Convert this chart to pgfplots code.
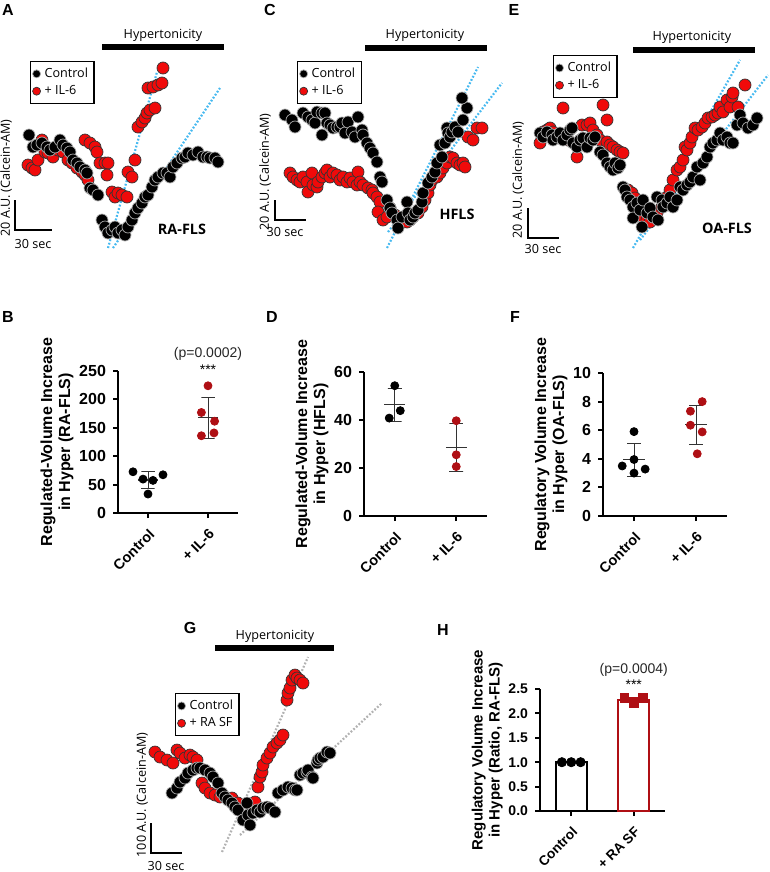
\documentclass[border=0pt]{standalone}
\usepackage{fontspec}
\setmainfont{Liberation Sans}
\newfontfamily\trf{Open Sans}
\usepackage{pgfplots}
\pgfplotsset{compat=1.18}
\definecolor{dotblue}{RGB}{70,185,240}
\definecolor{dred}{RGB}{175,15,20}
\definecolor{tred}{RGB}{240,10,10}
\newcommand\tf{\trf\fontsize{6.3}{7.5}\selectfont}
\newcommand\tfb{\trf\bfseries\fontsize{7.2}{8}\selectfont}
\newcommand\pl{\bfseries\fontsize{8}{9}\selectfont}
\pgfplotsset{
 trace/.style={hide axis, scale only axis, y dir=reverse, clip=false, enlargelimits=false,
   legend cell align=left, reverse legend,
   legend style={draw=black, line width=0.6pt, font=\tf, inner sep=1pt, row sep=-1.5pt, anchor=north west, fill=white},
   legend image code/.code={\draw[##1, mark size=2pt] plot coordinates {(0.1cm,0cm)};}},
 ctl/.style={only marks, mark=*, mark size=3pt, mark options={fill=black, draw=gray!65, line width=0.35pt}},
 trd/.style={only marks, mark=*, mark size=3pt, mark options={fill=tred, draw=black!80, line width=0.35pt}},
 fit/.style={dotblue, dash pattern=on 0.9pt off 0.9pt, line width=1.1pt, forget plot},
 gfit/.style={gray!60, dash pattern=on 0.9pt off 0.9pt, line width=1.1pt, forget plot},
 dotp/.style={scale only axis, clip=false, axis x line=bottom, axis y line=left,
   axis line style={line width=1pt, -}, tick style={line width=1pt, black}, tick align=outside,
   major tick length=2.5pt, xmin=-0.5, xmax=1.5, xtick={0,1},
   /pgf/number format/assume math mode=true, ylabel shift=-4pt,
   yticklabel style={font=\pl}, xticklabel style={rotate=45, anchor=north east, font=\bfseries\fontsize{7.2}{8}\selectfont},
   ylabel style={align=center, font=\pl}},
 cpt/.style={only marks, mark=*, mark size=2pt, mark options={fill=black, draw=black}},
 rpt/.style={only marks, mark=*, mark size=2pt, mark options={fill=dred, draw=dred}},
 sd/.style={black!80, line width=0.5pt, forget plot},
 mline/.style={black!80, line width=0.6pt, forget plot},
}
\begin{document}
\begin{tikzpicture}
\useasboundingbox (0,0) rectangle (385pt,-436pt);
\begin{scope}[x=0.5pt,y=-0.5pt]
\node[font=\bfseries\fontsize{8}{9}\selectfont] at (8,10) {A};
\node[font=\bfseries\fontsize{8}{9}\selectfont] at (270,10) {C};
\node[font=\bfseries\fontsize{8}{9}\selectfont] at (514,10) {E};
\node[font=\bfseries\fontsize{8}{9}\selectfont] at (8,317) {B};
\node[font=\bfseries\fontsize{8}{9}\selectfont] at (272,317) {D};
\node[font=\bfseries\fontsize{8}{9}\selectfont] at (515,317) {F};
\node[font=\bfseries\fontsize{8}{9}\selectfont] at (190,628) {G};
\node[font=\bfseries\fontsize{8}{9}\selectfont] at (443,630) {H};
\end{scope}
%% ---------- A ----------
\begin{axis}[trace, at={(0pt,-127.5pt)}, anchor=south west, width=127.5pt, height=127.5pt,
  xmin=0, xmax=255, ymin=0, ymax=255, legend style={at={(0.1176,0.761)}}]
\addplot[fit] coordinates {(108,248) (157,72)};
\addplot[fit] coordinates {(113,248) (220,88)};
\addplot[trd] coordinates {(28,165) (32,168) (35,170) (38,160) (42,140) (45,152) (48,153) (53,157) (58,150) (63,152) (68,160) (72,163) (77,168) (82,172) (85,175) (88,180) (85,140) (90,143) (95,147) (97,152) (100,163) (105,163) (108,163) (107,175) (112,192) (115,197) (118,193) (122,195) (127,197) (128,172) (132,177) (135,160) (138,127) (142,122) (145,118) (147,113) (150,110) (155,108) (148,88) (153,87) (158,85) (162,83) (163,68)};
\addlegendentry{+ IL-6}
\addplot[ctl] coordinates {(29,135) (33,147) (37,145) (42,143) (47,147) (50,150) (55,147) (60,140) (63,145) (67,148) (70,152) (73,160) (77,163) (80,167) (85,170) (87,173) (90,188) (93,190) (98,195) (102,220) (105,227) (108,233) (112,230) (115,227) (118,233) (122,230) (125,235) (128,227) (132,220) (135,213) (138,208) (142,203) (145,197) (148,195) (152,187) (155,180) (158,177) (163,173) (167,173) (170,177) (173,167) (177,163) (182,158) (185,157) (188,153) (193,155) (198,152) (203,157) (207,157) (210,158) (215,158) (218,162)};
\addlegendentry{Control}
\node[font=\tf] at (axis cs:163,35) {Hypertonicity};
\draw[line width=2.8pt] (axis cs:102,47) -- (axis cs:224,47);
\draw[line width=0.7pt] (axis cs:15,200) -- (axis cs:15,230) -- (axis cs:52,230);
\node[font=\tf] at (axis cs:33,244) {30 sec};
\node[font=\tf, rotate=90] at (axis cs:6,178) {20 A.U. (Calcein-AM)};
\node[font=\tfb] at (axis cs:182,229) {RA-FLS};
\end{axis}
%% ---------- C ----------
\begin{axis}[trace, at={(127.5pt,-127.5pt)}, anchor=south west, width=127.5pt, height=127.5pt,
  xmin=255, xmax=510, ymin=0, ymax=255, legend style={at={(0.165,0.761)}}]
\addplot[fit] coordinates {(387,248) (478,67)};
\addplot[fit] coordinates {(388,232) (502,83)};
\addplot[trd] coordinates {(290,173) (293,177) (297,180) (300,182) (303,177) (307,182) (308,192) (312,173) (313,185) (317,187) (318,182) (322,177) (325,173) (327,170) (330,177) (333,173) (337,175) (340,180) (343,177) (347,182) (350,178) (353,182) (357,185) (358,172) (360,182) (363,185) (368,188) (372,190) (373,193) (377,197) (380,202) (378,212) (383,220) (387,217) (390,208) (395,215) (398,220) (403,222) (407,222) (410,220) (413,217) (418,213) (422,207) (425,200) (428,193) (430,185) (432,180) (437,177) (440,173) (443,168) (447,163) (450,157) (453,158) (457,163) (460,165) (463,163) (465,167) (468,137) (473,140) (477,128) (482,128)};
\addlegendentry{+ IL-6}
\addplot[ctl] coordinates {(285,115) (292,120) (295,127) (303,113) (308,117) (312,120) (315,123) (317,112) (322,113) (325,113) (322,135) (327,123) (330,125) (333,128) (337,127) (340,127) (342,123) (345,133) (348,122) (352,132) (355,137) (358,117) (362,130) (363,135) (367,143) (370,148) (373,153) (377,162) (380,177) (382,182) (387,200) (390,208) (392,213) (397,220) (398,228) (402,217) (407,202) (408,213) (410,220) (413,217) (415,213) (418,210) (422,202) (423,193) (428,183) (432,177) (435,172) (437,163) (440,145) (442,157) (445,143) (447,128) (448,133) (450,137) (452,132) (455,127) (458,132) (463,120) (467,108) (462,98)};
\addlegendentry{Control}
\node[font=\tf] at (axis cs:425,35) {Hypertonicity};
\draw[line width=2.8pt] (axis cs:365,48) -- (axis cs:487,48);
\draw[line width=0.7pt] (axis cs:275,200) -- (axis cs:275,220) -- (axis cs:306,220);
\node[font=\tf] at (axis cs:285,232) {30 sec};
\node[font=\tf, rotate=90] at (axis cs:265,172) {20 A.U. (Calcein-AM)};
\node[font=\tfb] at (axis cs:457,214) {HFLS};
\end{axis}
%% ---------- E ----------
\begin{axis}[trace, at={(255pt,-127.5pt)}, anchor=south west, width=130pt, height=127.5pt,
  xmin=510, xmax=770, ymin=0, ymax=255, legend style={at={(0.165,0.784)}}]
\addplot[fit] coordinates {(633,248) (740,60)};
\addplot[fit] coordinates {(640,240) (768,75)};
\addplot[trd] coordinates {(540,143) (543,132) (547,130) (550,128) (553,132) (563,108) (568,140) (577,157) (582,125) (587,125) (590,123) (593,130) (597,135) (600,140) (603,105) (607,120) (607,142) (610,145) (613,147) (617,150) (620,152) (623,153) (628,190) (632,193) (635,198) (637,203) (643,217) (647,220) (650,222) (653,217) (657,213) (662,207) (667,197) (670,190) (673,180) (677,170) (680,167) (683,160) (685,147) (687,150) (690,143) (692,137) (695,128) (698,130) (702,127) (705,123) (708,118) (712,117) (715,115) (718,113) (720,107) (723,112) (727,100) (730,107) (732,97) (733,93) (738,107) (745,85)};
\addlegendentry{+ IL-6}
\addplot[ctl] coordinates {(540,133) (543,137) (547,132) (552,135) (553,140) (557,137) (560,133) (563,140) (567,135) (570,130) (572,128) (573,143) (577,147) (580,140) (583,138) (587,147) (590,138) (593,140) (595,137) (600,152) (603,155) (607,163) (610,167) (613,170) (615,163) (618,168) (620,165) (623,187) (625,190) (627,197) (630,200) (633,207) (633,218) (637,203) (640,210) (642,227) (643,200) (647,213) (650,208) (653,217) (657,197) (658,220) (662,200) (663,207) (667,203) (670,197) (673,207) (677,200) (680,187) (683,190) (687,185) (690,182) (693,177) (697,167) (700,180) (703,163) (707,157) (710,147) (713,143) (717,140) (720,133) (723,140) (727,137) (730,143) (733,143) (737,125) (740,115) (743,123) (748,128) (753,125) (757,118)};
\addlegendentry{Control}
\node[font=\tf] at (axis cs:692,37) {Hypertonicity};
\draw[line width=2.8pt] (axis cs:633,50) -- (axis cs:755,50);
\draw[line width=0.7pt] (axis cs:528,208) -- (axis cs:528,238) -- (axis cs:559,238);
\node[font=\tf] at (axis cs:543,249) {30 sec};
\node[font=\tf, rotate=90] at (axis cs:518,180) {20 A.U. (Calcein-AM)};
\node[font=\tfb] at (axis cs:727,228) {OA-FLS};
\end{axis}
%% ---------- G ----------
\begin{axis}[trace, at={(65pt,-436pt)}, anchor=south west, width=145pt, height=136pt,
  xmin=130, xmax=420, ymin=600, ymax=872, legend style={at={(0.155,0.658)}}]
\addplot[gfit] coordinates {(222,852) (308,657)};
\addplot[gfit] coordinates {(240,835) (382,703)};
\addplot[trd] coordinates {(155,752) (160,757) (167,760) (173,763) (177,750) (180,753) (185,758) (190,755) (193,757) (197,760) (202,783) (205,788) (210,793) (215,795) (220,797) (225,797) (232,798) (238,803) (255,802) (258,787) (260,777) (262,772) (263,765) (267,758) (270,753) (273,747) (277,743) (280,740) (283,735) (287,700) (288,693) (290,688) (292,680) (295,675) (297,678) (300,680) (303,683)};
\addlegendentry{+ RA SF}
\addplot[ctl] coordinates {(172,793) (177,788) (180,782) (185,778) (188,773) (193,770) (197,768) (200,768) (205,770) (210,773) (213,777) (218,783) (222,793) (225,797) (228,800) (232,803) (235,807) (238,810) (243,820) (247,803) (248,815) (250,825) (253,813) (257,810) (260,812) (263,808) (267,807) (270,808) (275,812) (278,793) (283,790) (288,787) (292,788) (295,790) (297,790) (300,775) (303,773) (307,772) (308,770) (312,777) (313,778) (317,763) (318,760) (320,758) (323,757) (327,752) (330,753)};
\addlegendentry{Control}
\node[font=\tf] at (axis cs:275,636) {Hypertonicity};
\draw[line width=2.8pt] (axis cs:215,648) -- (axis cs:334,648);
\draw[line width=0.7pt] (axis cs:151,823) -- (axis cs:151,853) -- (axis cs:182,853);
\node[font=\tf] at (axis cs:166,866) {30 sec};
\node[font=\tf, rotate=90] at (axis cs:142,795) {100 A.U. (Calcein-AM)};
\end{axis}
%% ---------- B ----------
\begin{axis}[dotp, at={(59pt,-256.5pt)}, anchor=south west, width=60pt, height=71pt,
  ymin=0, ymax=250, ytick={0,50,...,250}, xticklabels={Control,+ IL-6},
  ylabel={Regulated-Volume Increase\\in Hyper (RA-FLS)}]
\addplot[mline] coordinates {(-0.17,58) (0.17,58)};
\addplot[sd] coordinates {(-0.11,42.5) (0.11,42.5) (0,42.5) (0,73.5) (-0.11,73.5) (0.11,73.5)};
\addplot[mline] coordinates {(0.83,168) (1.17,168)};
\addplot[sd] coordinates {(0.89,132) (1.11,132) (1,132) (1,204) (0.89,204) (1.11,204)};
\addplot[cpt] coordinates {(-0.25,72.6) (-0.083,59.7) (0.083,57.4) (0.25,67.3) (0,33.4)};
\addplot[rpt] coordinates {(1,224) (0.89,177) (1.11,161.6) (0.89,136) (1.1,141)};
\node[font=\fontsize{7}{8}\selectfont, text=black!85] at (axis cs:1,280) {(p=0.0002)};
\node[font=\fontsize{7}{8}\selectfont] at (axis cs:1,253) {***};
\end{axis}
%% ---------- D ----------
\begin{axis}[dotp, at={(182pt,-258pt)}, anchor=south west, width=61.5pt, height=72pt,
  ymin=0, ymax=60, ytick={0,20,40,60}, xticklabels={Control,+ IL-6},
  ylabel={Regulated-Volume Increase\\in Hyper (HFLS)}]
\addplot[mline] coordinates {(-0.17,46.3) (0.17,46.3)};
\addplot[sd] coordinates {(-0.11,39.3) (0.11,39.3) (0,39.3) (0,53.3) (-0.11,53.3) (0.11,53.3)};
\addplot[mline] coordinates {(0.83,28.6) (1.17,28.6)};
\addplot[sd] coordinates {(0.89,18.7) (1.11,18.7) (1,18.7) (1,38.5) (0.89,38.5) (1.11,38.5)};
\addplot[cpt] coordinates {(0,54.3) (-0.09,40.8) (0.09,43.9)};
\addplot[rpt] coordinates {(1,39.7) (1,25.5) (1,20.6)};
\end{axis}
%% ---------- F ----------
\begin{axis}[dotp, at={(301.5pt,-258pt)}, anchor=south west, width=62pt, height=71.5pt,
  ymin=0, ymax=10, ytick={0,2,...,10}, xticklabels={Control,+ IL-6},
  ylabel={Regulatory Volume Increase\\in Hyper (OA-FLS)}]
\addplot[mline] coordinates {(-0.17,3.93) (0.17,3.93)};
\addplot[sd] coordinates {(-0.11,2.78) (0.11,2.78) (0,2.78) (0,5.08) (-0.11,5.08) (0.11,5.08)};
\addplot[mline] coordinates {(0.83,6.38) (1.17,6.38)};
\addplot[sd] coordinates {(0.89,5.0) (1.11,5.0) (1,5.0) (1,7.76) (0.89,7.76) (1.11,7.76)};
\addplot[cpt] coordinates {(0,5.9) (-0.19,3.5) (0,3.95) (0.18,3.28) (0,3.0)};
\addplot[rpt] coordinates {(1.1,8.0) (0.91,7.33) (0.91,6.35) (1.1,5.88) (1.02,4.35)};
\end{axis}
%% ---------- H ----------
\begin{axis}[dotp, at={(270pt,-405.5pt)}, anchor=south west, width=62.5pt, height=61pt,
  ymin=0, ymax=2.5, ytick={0,0.5,...,2.5}, xticklabels={Control,+ RA SF},
  yticklabel style={font=\bfseries\fontsize{7}{8}\selectfont, /pgf/number format/.cd, fixed, fixed zerofill, precision=1},
  xticklabel style={font=\bfseries\fontsize{6.8}{8}\selectfont},
  ylabel style={font=\bfseries\fontsize{7.5}{8.5}\selectfont},
  ylabel={Regulatory Volume Increase\\in Hyper (Ratio, RA-FLS)}]
\addplot[ybar, bar width=15.5pt, bar shift=0pt, draw=black, fill=white, line width=1pt] coordinates {(0,1.0)};
\addplot[ybar, bar width=15.5pt, bar shift=0pt, draw=dred, fill=white, line width=1pt] coordinates {(1,2.28)};
\addplot[sd, dred] coordinates {(0.9,2.23) (1.1,2.23) (1,2.23) (1,2.33) (0.9,2.33) (1.1,2.33)};
\addplot[cpt, mark size=2.3pt] coordinates {(-0.15,1.0) (0,1.0) (0.15,1.0)};
\addplot[only marks, mark=square*, mark size=2.2pt, mark options={fill=dred, draw=dred}] coordinates {(0.85,2.31) (1,2.22) (1.15,2.31)};
\node[font=\fontsize{7}{8}\selectfont, text=black!85] at (axis cs:1,2.89) {(p=0.0004)};
\node[font=\fontsize{7}{8}\selectfont] at (axis cs:1,2.58) {***};
\end{axis}
\end{tikzpicture}
\end{document}
